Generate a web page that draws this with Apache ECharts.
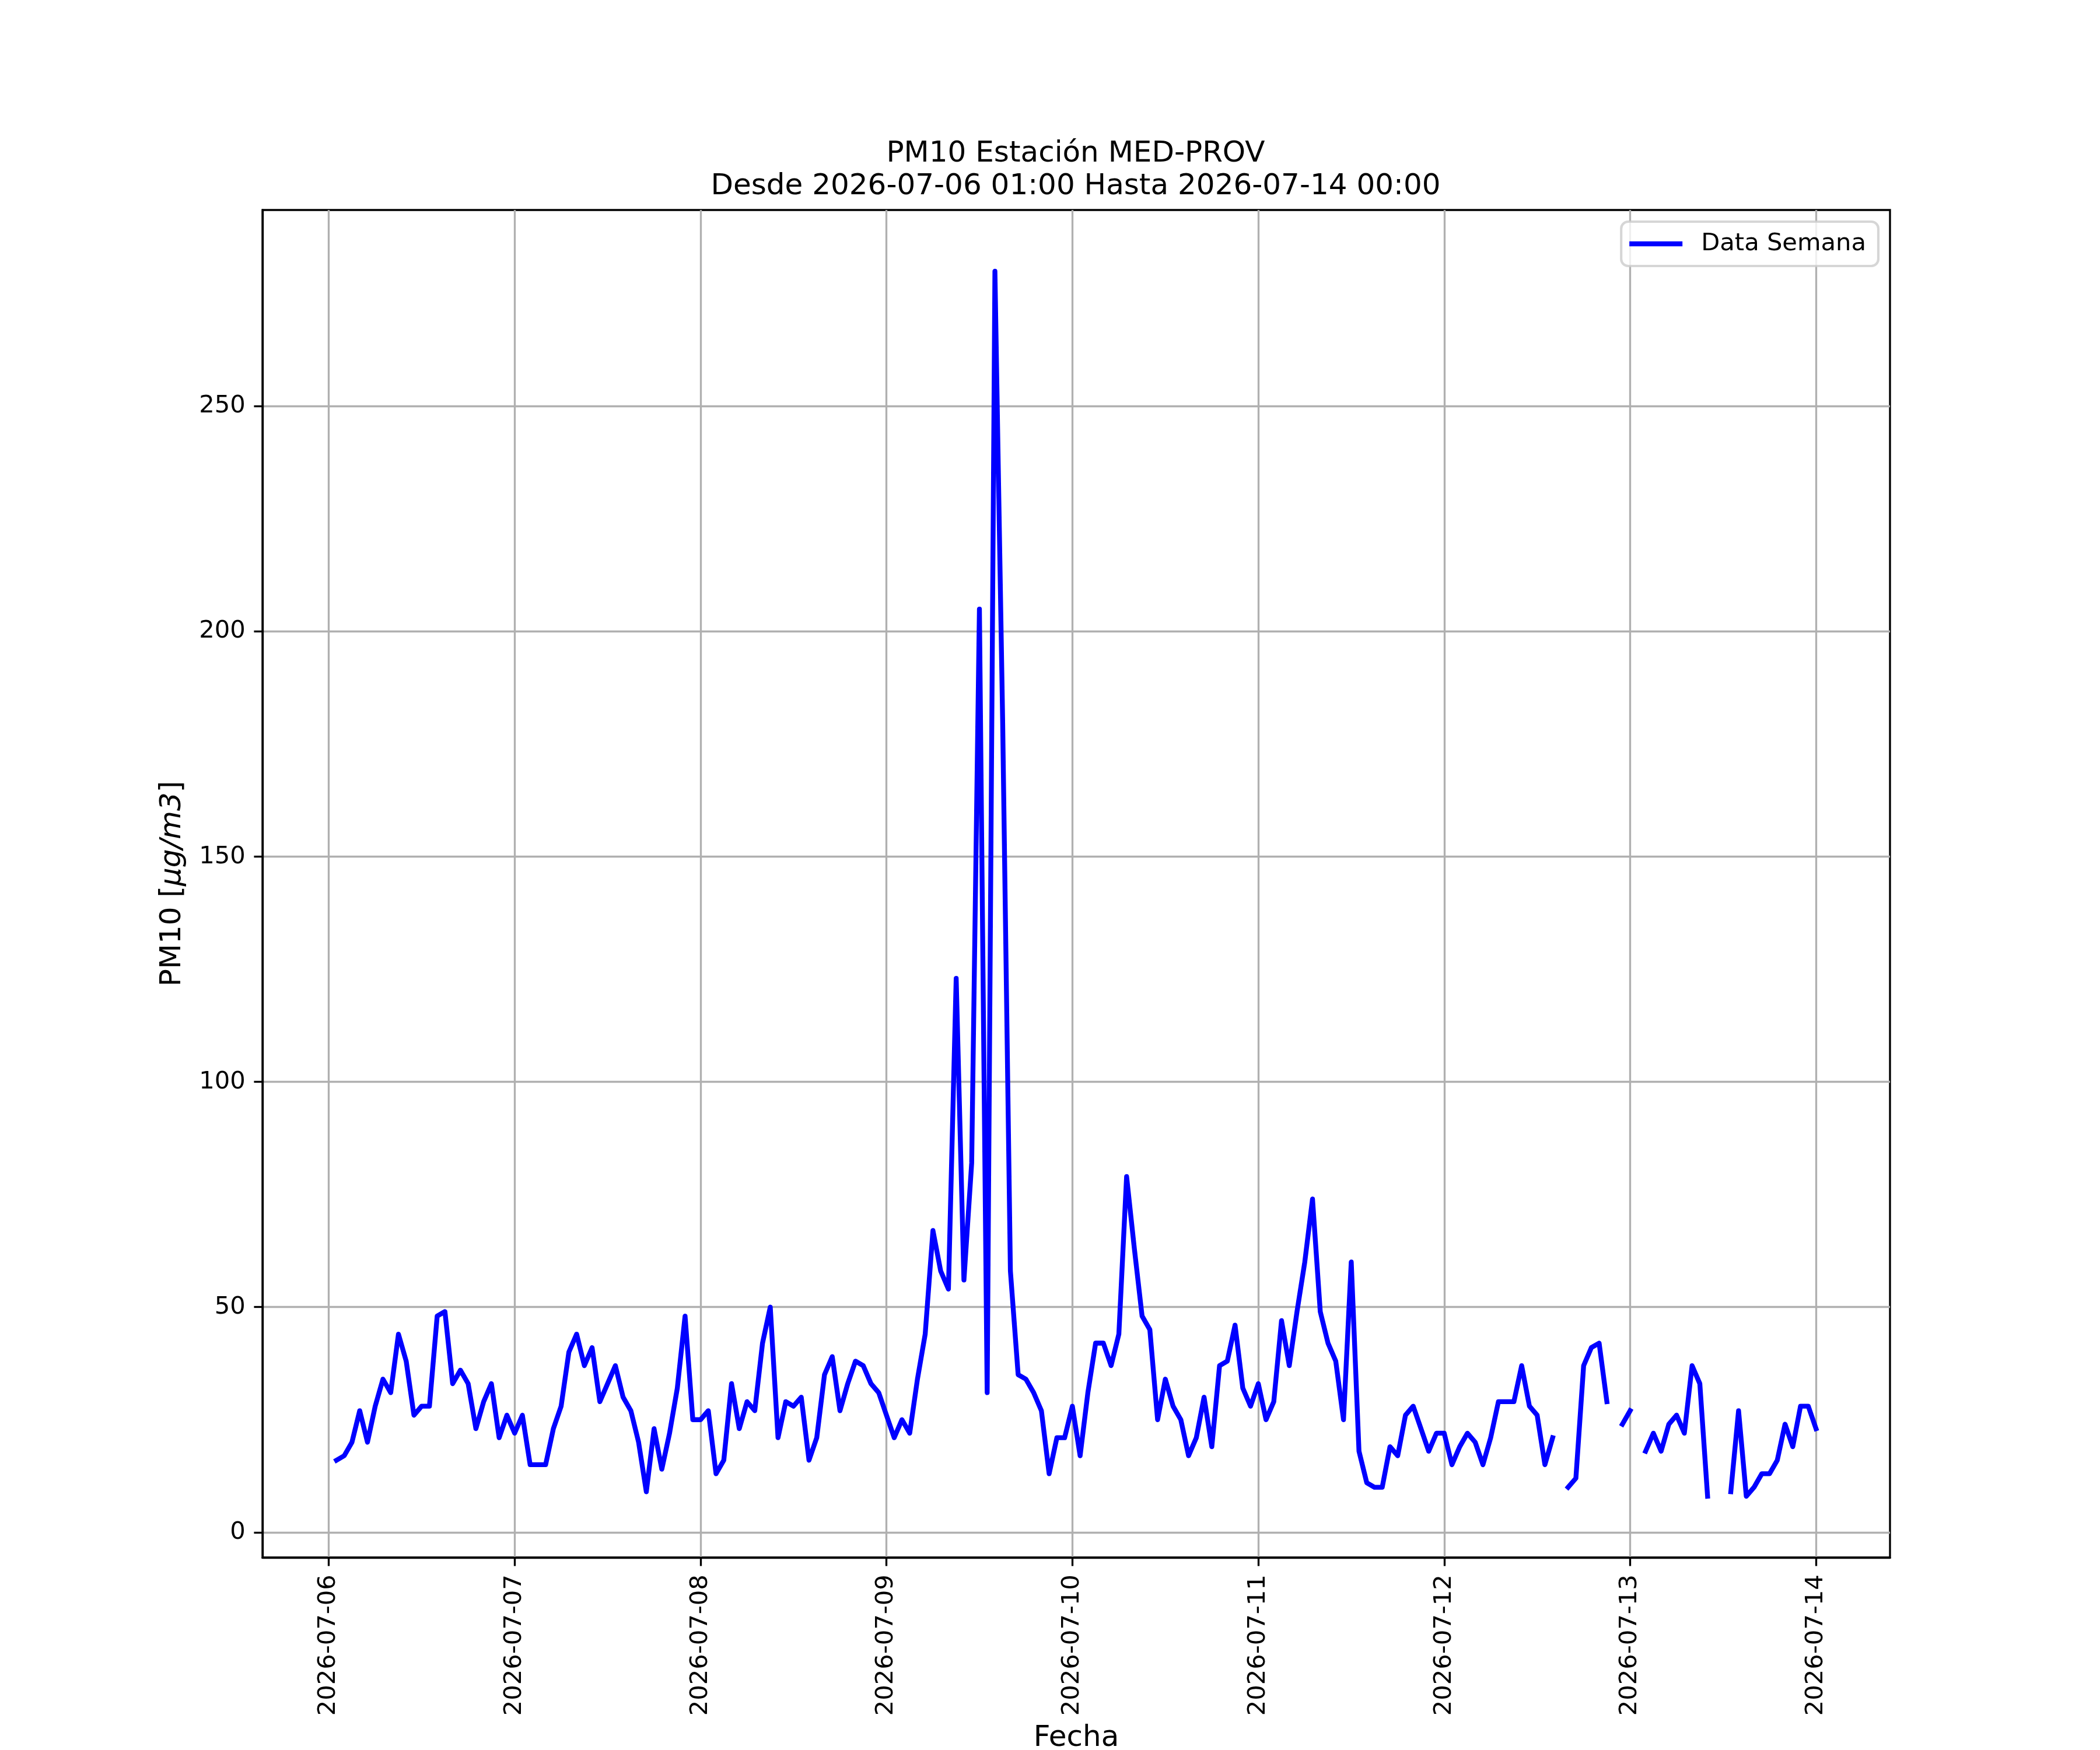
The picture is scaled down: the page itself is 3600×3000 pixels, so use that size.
<!DOCTYPE html>
<html>
<head>
<meta charset="utf-8">
<title>PM10 Estación MED-PROV</title>
<script src="https://cdn.jsdelivr.net/npm/echarts@6/dist/echarts.min.js"></script>
<style>
    html, body { margin: 0; padding: 0; background: #fff; }
    #chart_js { width: 3600px; height: 3000px; }
</style>
</head>
<body>
<div id="chart_js"></div>
<script>
// 数据: PM10 horario, un arreglo por día (01:00 ... 00:00 del día siguiente)
var startDay = '2026-07-06';
var startHour = 1;
var day0706 = [16, 17, 20, 27, 20, 28, 34, 31, 44, 38, 26, 28, 28, 48, 49, 33, 36, 33, 23, 29, 33, 21, 26, 22];
var day0707 = [26, 15, 15, 15, 23, 28, 40, 44, 37, 41, 29, 33, 37, 30, 27, 20, 9, 23, 14, 22, 32, 48, 25, 25];
var day0708 = [27, 13, 16, 33, 23, 29, 27, 42, 50, 21, 29, 28, 30, 16, 21, 35, 39, 27, 33, 38, 37, 33, 31, 26];
var day0709 = [21, 25, 22, 34, 44, 67, 58, 54, 123, 56, 82, 205, 31, 280, 180, 58, 35, 34, 31, 27, 13, 21, 21, 28];
var day0710 = [17, 31, 42, 42, 37, 44, 79, 63, 48, 45, 25, 34, 28, 25, 17, 21, 30, 19, 37, 38, 46, 32, 28, 33];
var day0711 = [25, 29, 47, 37, 49, 60, 74, 49, 42, 38, 25, 60, 18, 11, 10, 10, 19, 17, 26, 28, 23, 18, 22, 22];
var day0712 = [15, 19, 22, 20, 15, 21, 29, 29, 29, 37, 28, 26, 15, 21, null, 10, 12, 37, 41, 42, 29, null, 24, 27];
var day0713 = [null, 18, 22, 18, 24, 26, 22, 37, 33, 8, null, null, 9, 27, 8, 10, 13, 13, 16, 24, 19, 28, 28, 23];

// ejes
var tickDays = ['2026-07-06', '2026-07-07', '2026-07-08', '2026-07-09', '2026-07-10',
    '2026-07-11', '2026-07-12', '2026-07-13', '2026-07-14'];
var yTicks = [0, 50, 100, 150, 200, 250];

// textos
var titleLines = ['PM10 Estación MED-PROV', 'Desde 2026-07-06 01:00 Hasta 2026-07-14 00:00'];
var seriesName = 'Data Semana';
var xName = 'Fecha';

(function(window) {
    'use strict';
    var HOUR = 3600 * 1000;
    var PT = 300 / 72; // 1pt a 300 dpi
    var FONT = 'DejaVu Sans';

    function parseDay(s, h) {
        var p = s.split('-');
        return new Date(+p[0], +p[1] - 1, +p[2], h || 0, 0, 0).getTime();
    }

    function pad(n) {
        return n < 10 ? '0' + n : '' + n;
    }

    function fmtDay(t) {
        var d = new Date(t);
        return d.getFullYear() + '-' + pad(d.getMonth() + 1) + '-' + pad(d.getDate());
    }

    var values = [].concat(day0706, day0707, day0708, day0709, day0710, day0711, day0712, day0713);
    var start = parseDay(startDay, startHour);
    var points = values.map(function(v, i) {
        return [start + i * HOUR, v == null ? '-' : v];
    });
    var ticks = tickDays.map(function(s) { return parseDay(s, 0); });

    // márgenes automáticos 5% (como matplotlib)
    var first = points[0][0];
    var last = points[points.length - 1][0];
    var padX = (last - first) * 0.05;
    var nums = values.filter(function(v) { return v != null; });
    var vMin = Math.min.apply(null, nums);
    var vMax = Math.max.apply(null, nums);
    var padY = (vMax - vMin) * 0.05;

    var gridLine = { color: '#b0b0b0', width: 0.8 * PT };
    var tickLine = { color: '#000', width: 0.8 * PT };
    var labelStyle = { fontSize: 10 * PT, fontFamily: FONT, color: '#000' };

    var chart = echarts.init(document.getElementById('chart_js'), null, { renderer: 'canvas' });

    var option = {
        animation: false,
        backgroundColor: '#fff',
        grid: {
            left: 450,
            top: 360,
            width: 2790,
            height: 2310,
            show: true,
            backgroundColor: '#fff',
            borderColor: '#000',
            borderWidth: 0.8 * PT
        },
        legend: {
            data: [{ name: seriesName, icon: 'rect' }],
            right: 380,
            top: 380,
            orient: 'vertical',
            selectedMode: false,
            itemWidth: 91,
            itemHeight: 2 * PT,
            padding: [14, 21, 14, 14],
            backgroundColor: 'rgba(255,255,255,0.8)',
            borderColor: 'rgba(204,204,204,0.8)',
            borderWidth: 1 * PT,
            borderRadius: 12,
            textStyle: {
                fontSize: 10 * PT,
                fontFamily: FONT,
                color: '#000',
                lineHeight: 48,
                padding: [0, 0, 0, 27]
            }
        },
        xAxis: {
            // eje numérico en milisegundos, etiquetas de fecha propias
            type: 'value',
            min: first - padX,
            max: last + padX,
            axisLine: { show: true, onZero: false, lineStyle: tickLine },
            axisTick: { show: true, customValues: ticks, length: 3.5 * PT, lineStyle: tickLine },
            axisLabel: Object.assign({
                customValues: ticks,
                rotate: 90,
                margin: 7 * PT,
                formatter: function(v) { return fmtDay(v); }
            }, labelStyle),
            splitLine: { show: true, lineStyle: gridLine }
        },
        yAxis: {
            type: 'value',
            min: vMin - padY,
            max: vMax + padY,
            axisLine: { show: true, onZero: false, lineStyle: tickLine },
            axisTick: { show: true, customValues: yTicks, length: 3.5 * PT, lineStyle: tickLine },
            axisLabel: Object.assign({
                customValues: yTicks,
                margin: 7 * PT,
                formatter: function(v) { return String(v); }
            }, labelStyle),
            splitLine: { show: true, lineStyle: gridLine }
        },
        graphic: [{
            type: 'text',
            x: 1844,
            y: 264,
            style: { text: titleLines[0], fontSize: 12 * PT, fontFamily: FONT, fill: '#000', align: 'center', verticalAlign: 'middle' }
        }, {
            type: 'text',
            x: 1844,
            y: 320,
            style: { text: titleLines[1], fontSize: 12 * PT, fontFamily: FONT, fill: '#000', align: 'center', verticalAlign: 'middle' }
        }, {
            type: 'text',
            x: 1845,
            y: 2980,
            style: { text: xName, fontSize: 12 * PT, fontFamily: FONT, fill: '#000', align: 'center', verticalAlign: 'middle' }
        }, {
            type: 'text',
            x: 296,
            y: 1515,
            rotation: Math.PI / 2,
            style: {
                text: 'PM10 [{i|μg/m3}]',
                fontSize: 12 * PT,
                fontFamily: FONT,
                fill: '#000',
                align: 'center',
                verticalAlign: 'middle',
                rich: {
                    i: { fontSize: 12 * PT, fontFamily: FONT, fontStyle: 'italic', fill: '#000' }
                }
            }
        }],
        series: [{
            name: seriesName,
            type: 'line',
            data: points,
            showSymbol: false,
            symbol: 'none',
            connectNulls: false,
            z: 3,
            itemStyle: { color: '#0000ff' },
            lineStyle: { color: '#0000ff', width: 2 * PT, cap: 'square', join: 'round' }
        }]
    };

    chart.setOption(option);
})(window);
</script>
</body>
</html>
